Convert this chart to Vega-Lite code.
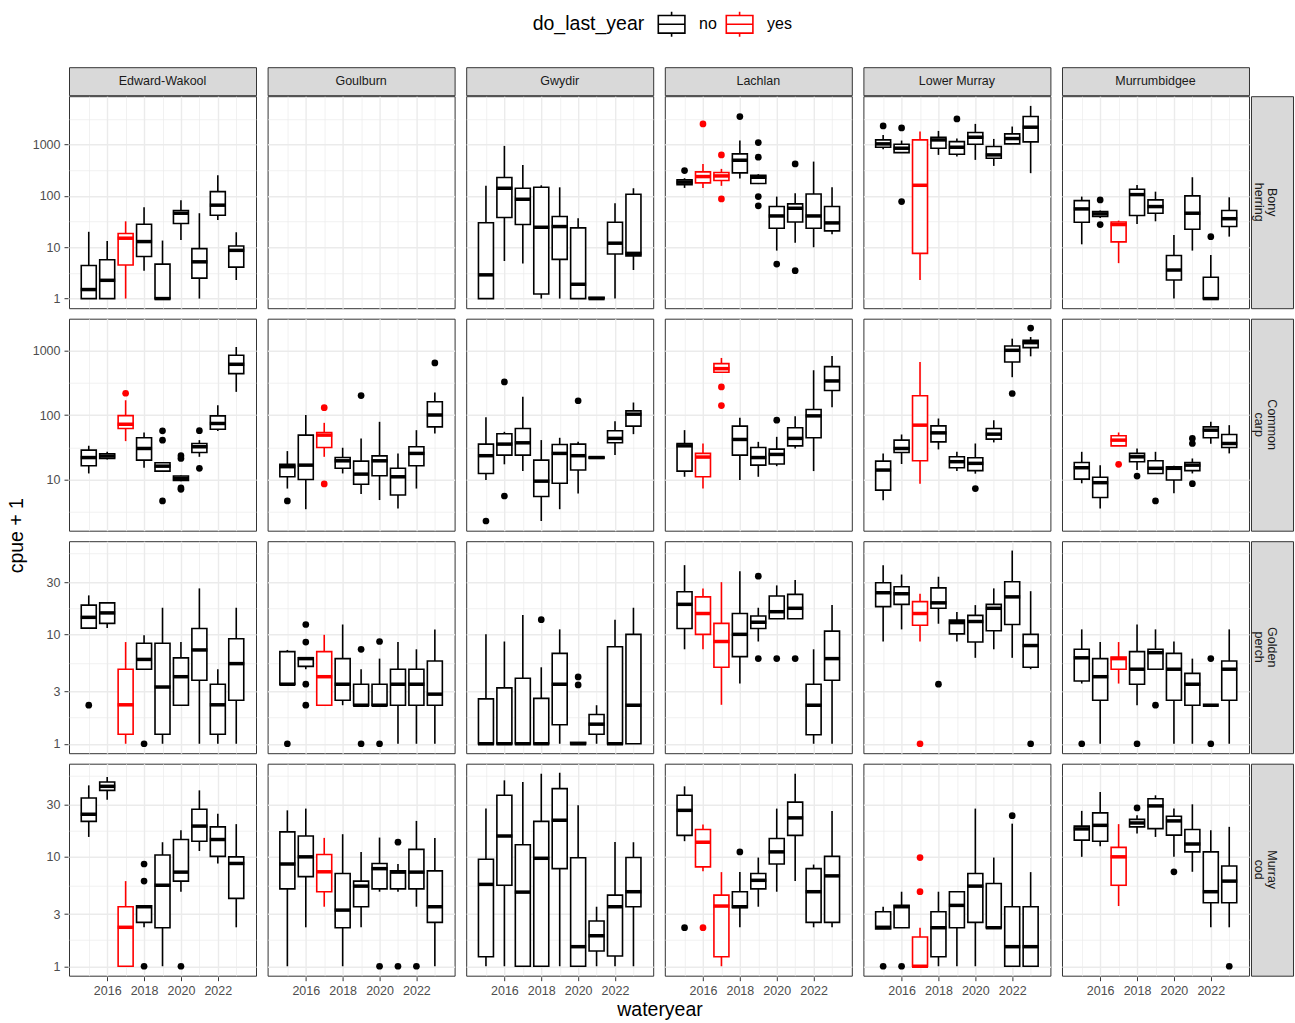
{
  "$schema": "https://vega.github.io/schema/vega-lite/v6.json",
  "background": "white",
  "padding": {"left": 6, "top": 9.2, "right": 0, "bottom": 0},
  "data": {"values": [
    {"river":"Edward-Wakool","species":"Bony herring","year":2015,"do_last_year":"no","lower":1,"q1":1,"median":1.5,"q3":4.4,"upper":20},
    {"river":"Edward-Wakool","species":"Bony herring","year":2016,"do_last_year":"no","lower":1,"q1":1,"median":2.27,"q3":5.7,"upper":13.3},
    {"river":"Edward-Wakool","species":"Bony herring","year":2017,"do_last_year":"yes","lower":1,"q1":4.5,"median":15,"q3":18.5,"upper":32},
    {"river":"Edward-Wakool","species":"Bony herring","year":2018,"do_last_year":"no","lower":3.5,"q1":6.6,"median":12.9,"q3":28,"upper":60},
    {"river":"Edward-Wakool","species":"Bony herring","year":2019,"do_last_year":"no","lower":1,"q1":1,"median":1,"q3":4.7,"upper":13.5},
    {"river":"Edward-Wakool","species":"Bony herring","year":2020,"do_last_year":"no","lower":13.9,"q1":29,"median":46,"q3":52,"upper":82},
    {"river":"Edward-Wakool","species":"Bony herring","year":2021,"do_last_year":"no","lower":1,"q1":2.5,"median":5.2,"q3":9.4,"upper":46},
    {"river":"Edward-Wakool","species":"Bony herring","year":2022,"do_last_year":"no","lower":34,"q1":42,"median":66,"q3":121,"upper":253},
    {"river":"Edward-Wakool","species":"Bony herring","year":2023,"do_last_year":"no","lower":2.3,"q1":4.1,"median":8.7,"q3":10.6,"upper":19.6},
    {"river":"Goulburn","species":"Bony herring"},
    {"river":"Gwydir","species":"Bony herring","year":2015,"do_last_year":"no","lower":1,"q1":1,"median":2.9,"q3":30,"upper":157},
    {"river":"Gwydir","species":"Bony herring","year":2016,"do_last_year":"no","lower":5.4,"q1":38,"median":141,"q3":228,"upper":942},
    {"river":"Gwydir","species":"Bony herring","year":2017,"do_last_year":"no","lower":4.8,"q1":27.7,"median":86,"q3":141,"upper":402},
    {"river":"Gwydir","species":"Bony herring","year":2018,"do_last_year":"no","lower":1,"q1":1.23,"median":24.5,"q3":147,"upper":161},
    {"river":"Gwydir","species":"Bony herring","year":2019,"do_last_year":"no","lower":1,"q1":5.8,"median":25.3,"q3":39.6,"upper":147},
    {"river":"Gwydir","species":"Bony herring","year":2020,"do_last_year":"no","lower":1,"q1":1,"median":1.9,"q3":23.8,"upper":36.7},
    {"river":"Gwydir","species":"Bony herring","year":2021,"do_last_year":"no","lower":1,"q1":1,"median":1,"q3":1.06,"upper":1.06},
    {"river":"Gwydir","species":"Bony herring","year":2022,"do_last_year":"no","lower":1,"q1":7.4,"median":12,"q3":30.7,"upper":72},
    {"river":"Gwydir","species":"Bony herring","year":2023,"do_last_year":"no","lower":3.6,"q1":6.8,"median":7.6,"q3":108,"upper":141},
    {"river":"Lachlan","species":"Bony herring","year":2015,"do_last_year":"no","lower":143,"q1":166,"median":185,"q3":205,"upper":221},
    {"river":"Lachlan","species":"Bony herring","year":2016,"do_last_year":"yes","lower":143,"q1":179,"median":238,"q3":294,"upper":420},
    {"river":"Lachlan","species":"Bony herring","year":2017,"do_last_year":"yes","lower":157,"q1":199,"median":245,"q3":285,"upper":336},
    {"river":"Lachlan","species":"Bony herring","year":2018,"do_last_year":"no","lower":218,"q1":281,"median":495,"q3":658,"upper":1197},
    {"river":"Lachlan","species":"Bony herring","year":2019,"do_last_year":"no","lower":170,"q1":174,"median":231,"q3":253,"upper":265},
    {"river":"Lachlan","species":"Bony herring","year":2020,"do_last_year":"no","lower":8.6,"q1":23.4,"median":40.7,"q3":62,"upper":97},
    {"river":"Lachlan","species":"Bony herring","year":2021,"do_last_year":"no","lower":12.3,"q1":31,"median":57.5,"q3":70,"upper":113},
    {"river":"Lachlan","species":"Bony herring","year":2022,"do_last_year":"no","lower":10,"q1":23.4,"median":40.7,"q3":109,"upper":466},
    {"river":"Lachlan","species":"Bony herring","year":2023,"do_last_year":"no","lower":17.9,"q1":20.8,"median":29.8,"q3":62,"upper":147},
    {"river":"Lower Murray","species":"Bony herring","year":2015,"do_last_year":"no","lower":811,"q1":887,"median":1031,"q3":1232,"upper":1542},
    {"river":"Lower Murray","species":"Bony herring","year":2016,"do_last_year":"no","lower":698,"q1":698,"median":849,"q3":1015,"upper":1197},
    {"river":"Lower Murray","species":"Bony herring","year":2017,"do_last_year":"yes","lower":2.3,"q1":7.6,"median":161,"q3":1232,"upper":1791},
    {"river":"Lower Murray","species":"Bony herring","year":2018,"do_last_year":"no","lower":629,"q1":849,"median":1232,"q3":1389,"upper":1845},
    {"river":"Lower Murray","species":"Bony herring","year":2019,"do_last_year":"no","lower":584,"q1":648,"median":887,"q3":1143,"upper":1309},
    {"river":"Lower Murray","species":"Bony herring","year":2020,"do_last_year":"no","lower":503,"q1":1015,"median":1389,"q3":1713,"upper":2527},
    {"river":"Lower Murray","species":"Bony herring","year":2021,"do_last_year":"no","lower":384,"q1":542,"median":629,"q3":914,"upper":1288},
    {"river":"Lower Murray","species":"Bony herring","year":2022,"do_last_year":"no","lower":1031,"q1":1031,"median":1309,"q3":1614,"upper":2243},
    {"river":"Lower Murray","species":"Bony herring","year":2023,"do_last_year":"no","lower":277,"q1":1127,"median":2178,"q3":3510,"upper":5665},
    {"river":"Murrumbidgee","species":"Bony herring","year":2015,"do_last_year":"no","lower":11.4,"q1":30.7,"median":55.8,"q3":81,"upper":97},
    {"river":"Murrumbidgee","species":"Bony herring","year":2016,"do_last_year":"no","lower":37,"q1":39.6,"median":44.6,"q3":49.5,"upper":52},
    {"river":"Murrumbidgee","species":"Bony herring","year":2017,"do_last_year":"yes","lower":4.9,"q1":12.7,"median":27.7,"q3":31,"upper":33},
    {"river":"Murrumbidgee","species":"Bony herring","year":2018,"do_last_year":"no","lower":28.5,"q1":41.4,"median":106,"q3":135,"upper":164},
    {"river":"Murrumbidgee","species":"Bony herring","year":2019,"do_last_year":"no","lower":32,"q1":46,"median":62,"q3":83.6,"upper":121},
    {"river":"Murrumbidgee","species":"Bony herring","year":2020,"do_last_year":"no","lower":1,"q1":2.3,"median":3.6,"q3":6.9,"upper":17.4},
    {"river":"Murrumbidgee","species":"Bony herring","year":2021,"do_last_year":"no","lower":8.6,"q1":22.4,"median":46,"q3":100,"upper":231},
    {"river":"Murrumbidgee","species":"Bony herring","year":2022,"do_last_year":"no","lower":1,"q1":1,"median":1,"q3":2.6,"upper":7.1},
    {"river":"Murrumbidgee","species":"Bony herring","year":2023,"do_last_year":"no","lower":16.1,"q1":25.3,"median":36,"q3":52,"upper":94},

    {"river":"Edward-Wakool","species":"Common carp","year":2015,"do_last_year":"no","lower":12.5,"q1":16.4,"median":22,"q3":28.7,"upper":33.5},
    {"river":"Edward-Wakool","species":"Common carp","year":2016,"do_last_year":"no","lower":20.6,"q1":21.3,"median":23.2,"q3":25.2,"upper":27},
    {"river":"Edward-Wakool","species":"Common carp","year":2017,"do_last_year":"yes","lower":39.5,"q1":62,"median":72,"q3":98,"upper":169},
    {"river":"Edward-Wakool","species":"Common carp","year":2018,"do_last_year":"no","lower":15.3,"q1":20.1,"median":30.4,"q3":44.5,"upper":53.7},
    {"river":"Edward-Wakool","species":"Common carp","year":2019,"do_last_year":"no","lower":13.5,"q1":13.6,"median":16.2,"q3":18.3,"upper":18.5},
    {"river":"Edward-Wakool","species":"Common carp","year":2020,"do_last_year":"no","lower":9.5,"q1":9.7,"median":10.5,"q3":11.4,"upper":11.6},
    {"river":"Edward-Wakool","species":"Common carp","year":2021,"do_last_year":"no","lower":22.6,"q1":26.4,"median":32.3,"q3":36.3,"upper":40.9},
    {"river":"Edward-Wakool","species":"Common carp","year":2022,"do_last_year":"no","lower":56.4,"q1":60.4,"median":74,"q3":97,"upper":142},
    {"river":"Edward-Wakool","species":"Common carp","year":2023,"do_last_year":"no","lower":228,"q1":436,"median":608,"q3":837,"upper":1125},
    {"river":"Goulburn","species":"Common carp","year":2015,"do_last_year":"no","lower":7.3,"q1":11.1,"median":15.9,"q3":17.3,"upper":27.7},
    {"river":"Goulburn","species":"Common carp","year":2016,"do_last_year":"no","lower":3.5,"q1":10.1,"median":16.8,"q3":48.9,"upper":100},
    {"river":"Goulburn","species":"Common carp","year":2017,"do_last_year":"yes","lower":22.6,"q1":31.5,"median":48.9,"q3":53.7,"upper":75.7},
    {"river":"Goulburn","species":"Common carp","year":2018,"do_last_year":"no","lower":12.5,"q1":15,"median":19.6,"q3":22.1,"upper":31.2},
    {"river":"Goulburn","species":"Common carp","year":2019,"do_last_year":"no","lower":6,"q1":8.5,"median":12.2,"q3":19.4,"upper":43.5},
    {"river":"Goulburn","species":"Common carp","year":2020,"do_last_year":"no","lower":4.85,"q1":11.5,"median":19.6,"q3":23.4,"upper":78.5},
    {"river":"Goulburn","species":"Common carp","year":2021,"do_last_year":"no","lower":3.6,"q1":5.8,"median":11.1,"q3":15,"upper":25.5},
    {"river":"Goulburn","species":"Common carp","year":2022,"do_last_year":"no","lower":7.3,"q1":16.4,"median":25.5,"q3":32.3,"upper":58.3},
    {"river":"Goulburn","species":"Common carp","year":2023,"do_last_year":"no","lower":51.9,"q1":65.6,"median":100,"q3":160,"upper":222},
    {"river":"Gwydir","species":"Common carp","year":2015,"do_last_year":"no","lower":9.9,"q1":12.5,"median":23.5,"q3":35.5,"upper":92.7},
    {"river":"Gwydir","species":"Common carp","year":2016,"do_last_year":"no","lower":17.3,"q1":24,"median":35.5,"q3":51.3,"upper":55},
    {"river":"Gwydir","species":"Common carp","year":2017,"do_last_year":"no","lower":13.6,"q1":24,"median":37.2,"q3":62,"upper":191},
    {"river":"Gwydir","species":"Common carp","year":2018,"do_last_year":"no","lower":2.3,"q1":5.5,"median":9.5,"q3":20.1,"upper":41},
    {"river":"Gwydir","species":"Common carp","year":2019,"do_last_year":"no","lower":3.5,"q1":8.8,"median":25.5,"q3":35.1,"upper":44.5},
    {"river":"Gwydir","species":"Common carp","year":2020,"do_last_year":"no","lower":6.1,"q1":14.1,"median":23.5,"q3":35.5,"upper":38.5},
    {"river":"Gwydir","species":"Common carp","year":2021,"do_last_year":"no","lower":21.7,"q1":21.7,"median":22,"q3":22.3,"upper":22.3},
    {"river":"Gwydir","species":"Common carp","year":2022,"do_last_year":"no","lower":24,"q1":37.2,"median":43.5,"q3":57,"upper":80.4},
    {"river":"Gwydir","species":"Common carp","year":2023,"do_last_year":"no","lower":50.6,"q1":67.3,"median":103,"q3":116,"upper":156},
    {"river":"Lachlan","species":"Common carp","year":2015,"do_last_year":"no","lower":11.1,"q1":13.6,"median":33.4,"q3":36.3,"upper":58.4},
    {"river":"Lachlan","species":"Common carp","year":2016,"do_last_year":"yes","lower":7.3,"q1":11.1,"median":22.4,"q3":25.5,"upper":36.3},
    {"river":"Lachlan","species":"Common carp","year":2017,"do_last_year":"yes","lower":458,"q1":458,"median":521,"q3":622,"upper":762},
    {"river":"Lachlan","species":"Common carp","year":2018,"do_last_year":"no","lower":9.9,"q1":24,"median":41.9,"q3":67.3,"upper":90.4},
    {"river":"Lachlan","species":"Common carp","year":2019,"do_last_year":"no","lower":11.1,"q1":16.8,"median":22,"q3":31.5,"upper":38.5},
    {"river":"Lachlan","species":"Common carp","year":2020,"do_last_year":"no","lower":16.2,"q1":17.5,"median":24.6,"q3":29.7,"upper":46},
    {"river":"Lachlan","species":"Common carp","year":2021,"do_last_year":"no","lower":30.4,"q1":33.4,"median":43.5,"q3":63.4,"upper":96},
    {"river":"Lachlan","species":"Common carp","year":2022,"do_last_year":"no","lower":13.6,"q1":44.5,"median":97,"q3":121.6,"upper":492},
    {"river":"Lachlan","species":"Common carp","year":2023,"do_last_year":"no","lower":132,"q1":239,"median":336,"q3":560,"upper":818},
    {"river":"Lower Murray","species":"Common carp","year":2015,"do_last_year":"no","lower":4.8,"q1":6.9,"median":14.1,"q3":19.4,"upper":25.5},
    {"river":"Lower Murray","species":"Common carp","year":2016,"do_last_year":"no","lower":17.5,"q1":26.4,"median":30.4,"q3":40.9,"upper":50},
    {"river":"Lower Murray","species":"Common carp","year":2017,"do_last_year":"yes","lower":8.7,"q1":19.6,"median":69.7,"q3":198,"upper":661},
    {"river":"Lower Murray","species":"Common carp","year":2018,"do_last_year":"no","lower":29.4,"q1":38.5,"median":53,"q3":68,"upper":88.3},
    {"river":"Lower Murray","species":"Common carp","year":2019,"do_last_year":"no","lower":13.6,"q1":15.3,"median":19,"q3":22.6,"upper":27},
    {"river":"Lower Murray","species":"Common carp","year":2020,"do_last_year":"no","lower":12.4,"q1":13.8,"median":17.9,"q3":21.8,"upper":36.3},
    {"river":"Lower Murray","species":"Common carp","year":2021,"do_last_year":"no","lower":37.7,"q1":42.4,"median":50.6,"q3":62,"upper":83},
    {"river":"Lower Murray","species":"Common carp","year":2022,"do_last_year":"no","lower":384,"q1":661,"median":1000,"q3":1167,"upper":1514},
    {"river":"Lower Murray","species":"Common carp","year":2023,"do_last_year":"no","lower":807,"q1":1099,"median":1313,"q3":1427,"upper":1606},
    {"river":"Murrumbidgee","species":"Common carp","year":2015,"do_last_year":"no","lower":8.8,"q1":10.2,"median":15.3,"q3":18.5,"upper":27},
    {"river":"Murrumbidgee","species":"Common carp","year":2016,"do_last_year":"no","lower":3.6,"q1":5.3,"median":9,"q3":10.9,"upper":16.8},
    {"river":"Murrumbidgee","species":"Common carp","year":2017,"do_last_year":"yes","lower":33.4,"q1":33.4,"median":40.9,"q3":47.8,"upper":53.7},
    {"river":"Murrumbidgee","species":"Common carp","year":2018,"do_last_year":"no","lower":14.1,"q1":19,"median":22.6,"q3":25.5,"upper":30.4},
    {"river":"Murrumbidgee","species":"Common carp","year":2019,"do_last_year":"no","lower":12.5,"q1":12.5,"median":15,"q3":19.6,"upper":27},
    {"river":"Murrumbidgee","species":"Common carp","year":2020,"do_last_year":"no","lower":6.2,"q1":9.9,"median":15,"q3":15.9,"upper":16.4},
    {"river":"Murrumbidgee","species":"Common carp","year":2021,"do_last_year":"no","lower":12.5,"q1":13.8,"median":16.8,"q3":18.5,"upper":21.3},
    {"river":"Murrumbidgee","species":"Common carp","year":2022,"do_last_year":"no","lower":35.9,"q1":44.5,"median":58.3,"q3":65.6,"upper":78.5},
    {"river":"Murrumbidgee","species":"Common carp","year":2023,"do_last_year":"no","lower":25.5,"q1":31.5,"median":36.3,"q3":50,"upper":69.7},

    {"river":"Edward-Wakool","species":"Golden perch","year":2015,"do_last_year":"no","lower":11.4,"q1":11.4,"median":14.3,"q3":18.5,"upper":22.7},
    {"river":"Edward-Wakool","species":"Golden perch","year":2016,"do_last_year":"no","lower":11.4,"q1":12.6,"median":15.7,"q3":19.4,"upper":19.7},
    {"river":"Edward-Wakool","species":"Golden perch","year":2017,"do_last_year":"yes","lower":1,"q1":1.22,"median":2.27,"q3":4.8,"upper":8.5},
    {"river":"Edward-Wakool","species":"Golden perch","year":2018,"do_last_year":"no","lower":4.8,"q1":4.8,"median":5.9,"q3":8.3,"upper":9.8},
    {"river":"Edward-Wakool","species":"Golden perch","year":2019,"do_last_year":"no","lower":1,"q1":1.22,"median":3.3,"q3":8.3,"upper":17.5},
    {"river":"Edward-Wakool","species":"Golden perch","year":2020,"do_last_year":"no","lower":2.25,"q1":2.25,"median":4.1,"q3":6.1,"upper":8.5},
    {"river":"Edward-Wakool","species":"Golden perch","year":2021,"do_last_year":"no","lower":1,"q1":3.8,"median":7.2,"q3":11.3,"upper":26.3},
    {"river":"Edward-Wakool","species":"Golden perch","year":2022,"do_last_year":"no","lower":1,"q1":1.22,"median":2.27,"q3":3.5,"upper":4.8},
    {"river":"Edward-Wakool","species":"Golden perch","year":2023,"do_last_year":"no","lower":1,"q1":2.5,"median":5.4,"q3":9.1,"upper":17.5},
    {"river":"Goulburn","species":"Golden perch","year":2015,"do_last_year":"no","lower":3.5,"q1":3.5,"median":3.5,"q3":6.95,"upper":7.2},
    {"river":"Goulburn","species":"Golden perch","year":2016,"do_last_year":"no","lower":4.8,"q1":5.1,"median":6,"q3":6.1,"upper":6.2},
    {"river":"Goulburn","species":"Golden perch","year":2017,"do_last_year":"yes","lower":2.25,"q1":2.25,"median":4.1,"q3":6.95,"upper":9.9},
    {"river":"Goulburn","species":"Golden perch","year":2018,"do_last_year":"no","lower":2.25,"q1":2.5,"median":3.5,"q3":6,"upper":12.3},
    {"river":"Goulburn","species":"Golden perch","year":2019,"do_last_year":"no","lower":2.25,"q1":2.25,"median":2.25,"q3":3.5,"upper":4.8},
    {"river":"Goulburn","species":"Golden perch","year":2020,"do_last_year":"no","lower":2.25,"q1":2.25,"median":2.25,"q3":3.5,"upper":6},
    {"river":"Goulburn","species":"Golden perch","year":2021,"do_last_year":"no","lower":1,"q1":2.25,"median":3.5,"q3":4.8,"upper":8.5},
    {"river":"Goulburn","species":"Golden perch","year":2022,"do_last_year":"no","lower":1,"q1":2.25,"median":3.5,"q3":4.8,"upper":7.3},
    {"river":"Goulburn","species":"Golden perch","year":2023,"do_last_year":"no","lower":1,"q1":2.25,"median":2.84,"q3":5.7,"upper":11.1},
    {"river":"Gwydir","species":"Golden perch","year":2015,"do_last_year":"no","lower":1,"q1":1,"median":1,"q3":2.57,"upper":10},
    {"river":"Gwydir","species":"Golden perch","year":2016,"do_last_year":"no","lower":1,"q1":1,"median":1,"q3":3.24,"upper":8.6},
    {"river":"Gwydir","species":"Golden perch","year":2017,"do_last_year":"no","lower":1,"q1":1,"median":1,"q3":3.97,"upper":15},
    {"river":"Gwydir","species":"Golden perch","year":2018,"do_last_year":"no","lower":1,"q1":1,"median":1,"q3":2.6,"upper":5},
    {"river":"Gwydir","species":"Golden perch","year":2019,"do_last_year":"no","lower":1,"q1":1.49,"median":3.5,"q3":6.7,"upper":11.1},
    {"river":"Gwydir","species":"Golden perch","year":2020,"do_last_year":"no","lower":1,"q1":1,"median":1,"q3":1.03,"upper":1.03},
    {"river":"Gwydir","species":"Golden perch","year":2021,"do_last_year":"no","lower":1,"q1":1.22,"median":1.51,"q3":1.85,"upper":2.25},
    {"river":"Gwydir","species":"Golden perch","year":2022,"do_last_year":"no","lower":1,"q1":1,"median":1,"q3":7.7,"upper":13.6},
    {"river":"Gwydir","species":"Golden perch","year":2023,"do_last_year":"no","lower":1,"q1":1,"median":2.25,"q3":10,"upper":17.5},
    {"river":"Lachlan","species":"Golden perch","year":2015,"do_last_year":"no","lower":7.3,"q1":11.3,"median":18.8,"q3":24.5,"upper":42.9},
    {"river":"Lachlan","species":"Golden perch","year":2016,"do_last_year":"yes","lower":7.3,"q1":10,"median":15.5,"q3":22,"upper":26.3},
    {"river":"Lachlan","species":"Golden perch","year":2017,"do_last_year":"yes","lower":2.27,"q1":5,"median":8.6,"q3":12.6,"upper":30},
    {"river":"Lachlan","species":"Golden perch","year":2018,"do_last_year":"no","lower":3.55,"q1":6.25,"median":10,"q3":15.5,"upper":37.8},
    {"river":"Lachlan","species":"Golden perch","year":2019,"do_last_year":"no","lower":8.6,"q1":11.3,"median":12.9,"q3":14.7,"upper":17.5},
    {"river":"Lachlan","species":"Golden perch","year":2020,"do_last_year":"no","lower":13.9,"q1":13.9,"median":16.1,"q3":22.4,"upper":28},
    {"river":"Lachlan","species":"Golden perch","year":2021,"do_last_year":"no","lower":13.9,"q1":13.9,"median":17.3,"q3":23.2,"upper":31.3},
    {"river":"Lachlan","species":"Golden perch","year":2022,"do_last_year":"no","lower":1,"q1":1.21,"median":2.25,"q3":3.5,"upper":7.3},
    {"river":"Lachlan","species":"Golden perch","year":2023,"do_last_year":"no","lower":1,"q1":3.8,"median":6,"q3":10.7,"upper":18.5},
    {"river":"Lower Murray","species":"Golden perch","year":2015,"do_last_year":"no","lower":8.6,"q1":17.9,"median":24,"q3":29.6,"upper":42.9},
    {"river":"Lower Murray","species":"Golden perch","year":2016,"do_last_year":"no","lower":11.1,"q1":18.8,"median":23.5,"q3":27.2,"upper":35.2},
    {"river":"Lower Murray","species":"Golden perch","year":2017,"do_last_year":"yes","lower":8.6,"q1":12.1,"median":15.5,"q3":19.9,"upper":23.5},
    {"river":"Lower Murray","species":"Golden perch","year":2018,"do_last_year":"no","lower":12.5,"q1":17.3,"median":19.4,"q3":26.6,"upper":33.6},
    {"river":"Lower Murray","species":"Golden perch","year":2019,"do_last_year":"no","lower":8.6,"q1":10.1,"median":12.8,"q3":13.5,"upper":16},
    {"river":"Lower Murray","species":"Golden perch","year":2020,"do_last_year":"no","lower":6.1,"q1":8.5,"median":13.1,"q3":14.9,"upper":18.5},
    {"river":"Lower Murray","species":"Golden perch","year":2021,"do_last_year":"no","lower":7.3,"q1":10.8,"median":17.3,"q3":18.8,"upper":26.3},
    {"river":"Lower Murray","species":"Golden perch","year":2022,"do_last_year":"no","lower":6.1,"q1":12.3,"median":22,"q3":30.2,"upper":58.3},
    {"river":"Lower Murray","species":"Golden perch","year":2023,"do_last_year":"no","lower":4.8,"q1":5,"median":7.9,"q3":10,"upper":24.8},
    {"river":"Murrumbidgee","species":"Golden perch","year":2015,"do_last_year":"no","lower":3.55,"q1":3.75,"median":6.1,"q3":7.3,"upper":11.1},
    {"river":"Murrumbidgee","species":"Golden perch","year":2016,"do_last_year":"no","lower":1,"q1":2.5,"median":4.1,"q3":6,"upper":8.5},
    {"river":"Murrumbidgee","species":"Golden perch","year":2017,"do_last_year":"yes","lower":3.55,"q1":4.8,"median":6,"q3":6.2,"upper":8.5},
    {"river":"Murrumbidgee","species":"Golden perch","year":2018,"do_last_year":"no","lower":2.25,"q1":3.5,"median":4.8,"q3":6.95,"upper":12.3},
    {"river":"Murrumbidgee","species":"Golden perch","year":2019,"do_last_year":"no","lower":4.8,"q1":4.8,"median":6.8,"q3":7.3,"upper":11.1},
    {"river":"Murrumbidgee","species":"Golden perch","year":2020,"do_last_year":"no","lower":1,"q1":2.5,"median":4.8,"q3":6.7,"upper":8.6},
    {"river":"Murrumbidgee","species":"Golden perch","year":2021,"do_last_year":"no","lower":1,"q1":2.25,"median":3.5,"q3":4.4,"upper":6},
    {"river":"Murrumbidgee","species":"Golden perch","year":2022,"do_last_year":"no","lower":2.25,"q1":2.25,"median":2.25,"q3":2.25,"upper":2.25},
    {"river":"Murrumbidgee","species":"Golden perch","year":2023,"do_last_year":"no","lower":1,"q1":2.5,"median":4.8,"q3":5.7,"upper":11.1},

    {"river":"Edward-Wakool","species":"Murray cod","year":2015,"do_last_year":"no","lower":15.2,"q1":21.1,"median":24.5,"q3":34.5,"upper":45},
    {"river":"Edward-Wakool","species":"Murray cod","year":2016,"do_last_year":"no","lower":33.3,"q1":40.5,"median":44.1,"q3":48.3,"upper":53.6},
    {"river":"Edward-Wakool","species":"Murray cod","year":2017,"do_last_year":"yes","lower":1,"q1":1,"median":2.27,"q3":3.5,"upper":6},
    {"river":"Edward-Wakool","species":"Murray cod","year":2018,"do_last_year":"no","lower":2.27,"q1":2.52,"median":3.5,"q3":3.57,"upper":3.57},
    {"river":"Edward-Wakool","species":"Murray cod","year":2019,"do_last_year":"no","lower":1,"q1":2.25,"median":5.5,"q3":10.4,"upper":13.6},
    {"river":"Edward-Wakool","species":"Murray cod","year":2020,"do_last_year":"no","lower":4.8,"q1":6,"median":7.25,"q3":14.4,"upper":17.5},
    {"river":"Edward-Wakool","species":"Murray cod","year":2021,"do_last_year":"no","lower":11.3,"q1":13.9,"median":19.1,"q3":27.2,"upper":40.5},
    {"river":"Edward-Wakool","species":"Murray cod","year":2022,"do_last_year":"no","lower":8.7,"q1":10.1,"median":14.4,"q3":18.8,"upper":24.8},
    {"river":"Edward-Wakool","species":"Murray cod","year":2023,"do_last_year":"no","lower":2.27,"q1":4.17,"median":8.7,"q3":10,"upper":19.9},
    {"river":"Goulburn","species":"Murray cod","year":2015,"do_last_year":"no","lower":1,"q1":5.1,"median":8.6,"q3":16.9,"upper":26.6},
    {"river":"Goulburn","species":"Murray cod","year":2016,"do_last_year":"no","lower":2.27,"q1":6.6,"median":10,"q3":15.5,"upper":27.6},
    {"river":"Goulburn","species":"Murray cod","year":2017,"do_last_year":"yes","lower":3.5,"q1":4.8,"median":7.3,"q3":10.5,"upper":14.9},
    {"river":"Goulburn","species":"Murray cod","year":2018,"do_last_year":"no","lower":1,"q1":2.25,"median":3.26,"q3":7.05,"upper":16.1},
    {"river":"Goulburn","species":"Murray cod","year":2019,"do_last_year":"no","lower":2.27,"q1":3.5,"median":5.4,"q3":6,"upper":11.1},
    {"river":"Goulburn","species":"Murray cod","year":2020,"do_last_year":"no","lower":4.8,"q1":5.1,"median":7.8,"q3":8.7,"upper":15},
    {"river":"Goulburn","species":"Murray cod","year":2021,"do_last_year":"no","lower":4.8,"q1":5.1,"median":7.25,"q3":7.45,"upper":8.6},
    {"river":"Goulburn","species":"Murray cod","year":2022,"do_last_year":"no","lower":3.5,"q1":5.1,"median":7.25,"q3":11.7,"upper":21.3},
    {"river":"Goulburn","species":"Murray cod","year":2023,"do_last_year":"no","lower":1,"q1":2.52,"median":3.5,"q3":7.45,"upper":14.9},
    {"river":"Gwydir","species":"Murray cod","year":2015,"do_last_year":"no","lower":1,"q1":1.22,"median":5.6,"q3":9.5,"upper":27.6},
    {"river":"Gwydir","species":"Murray cod","year":2016,"do_last_year":"no","lower":1,"q1":5.5,"median":15.5,"q3":36.5,"upper":50},
    {"river":"Gwydir","species":"Murray cod","year":2017,"do_last_year":"no","lower":1,"q1":1,"median":4.76,"q3":12.9,"upper":48.3},
    {"river":"Gwydir","species":"Murray cod","year":2018,"do_last_year":"no","lower":1,"q1":1,"median":9.7,"q3":21.1,"upper":57.5},
    {"river":"Gwydir","species":"Murray cod","year":2019,"do_last_year":"no","lower":1,"q1":7.8,"median":21.6,"q3":42,"upper":58.7},
    {"river":"Gwydir","species":"Murray cod","year":2020,"do_last_year":"no","lower":1,"q1":1,"median":1.51,"q3":9.8,"upper":29.6},
    {"river":"Gwydir","species":"Murray cod","year":2021,"do_last_year":"no","lower":1,"q1":1.38,"median":1.9,"q3":2.59,"upper":3.5},
    {"river":"Gwydir","species":"Murray cod","year":2022,"do_last_year":"no","lower":1,"q1":1.24,"median":3.5,"q3":4.47,"upper":13.7},
    {"river":"Gwydir","species":"Murray cod","year":2023,"do_last_year":"no","lower":1,"q1":3.5,"median":4.8,"q3":9.85,"upper":13.6},
    {"river":"Lachlan","species":"Murray cod","year":2015,"do_last_year":"no","lower":13.9,"q1":15.7,"median":26.6,"q3":36.5,"upper":44.1},
    {"river":"Lachlan","species":"Murray cod","year":2016,"do_last_year":"yes","lower":7.4,"q1":8.1,"median":13.6,"q3":17.8,"upper":19.7},
    {"river":"Lachlan","species":"Murray cod","year":2017,"do_last_year":"yes","lower":1,"q1":1.22,"median":3.55,"q3":4.47,"upper":7.25},
    {"river":"Lachlan","species":"Murray cod","year":2018,"do_last_year":"no","lower":2.27,"q1":3.45,"median":3.5,"q3":4.8,"upper":7.25},
    {"river":"Lachlan","species":"Murray cod","year":2019,"do_last_year":"no","lower":3.5,"q1":5.1,"median":6.1,"q3":7.05,"upper":9.85},
    {"river":"Lachlan","species":"Murray cod","year":2020,"do_last_year":"no","lower":4.8,"q1":8.6,"median":11.1,"q3":14.7,"upper":27.6},
    {"river":"Lachlan","species":"Murray cod","year":2021,"do_last_year":"no","lower":6,"q1":15.7,"median":22.7,"q3":31.6,"upper":57.5},
    {"river":"Lachlan","species":"Murray cod","year":2022,"do_last_year":"no","lower":2.27,"q1":2.52,"median":4.8,"q3":7.8,"upper":8.5},
    {"river":"Lachlan","species":"Murray cod","year":2023,"do_last_year":"no","lower":2.27,"q1":2.52,"median":6.7,"q3":10.1,"upper":26.3},
    {"river":"Lower Murray","species":"Murray cod","year":2015,"do_last_year":"no","lower":2.19,"q1":2.19,"median":2.27,"q3":3.15,"upper":3.5},
    {"river":"Lower Murray","species":"Murray cod","year":2016,"do_last_year":"no","lower":2.25,"q1":2.25,"median":3.5,"q3":3.6,"upper":4.8},
    {"river":"Lower Murray","species":"Murray cod","year":2017,"do_last_year":"yes","lower":1,"q1":1,"median":1,"q3":1.85,"upper":2.25},
    {"river":"Lower Murray","species":"Murray cod","year":2018,"do_last_year":"no","lower":1,"q1":1.22,"median":2.25,"q3":3.15,"upper":4.8},
    {"river":"Lower Murray","species":"Murray cod","year":2019,"do_last_year":"no","lower":1,"q1":2.25,"median":3.6,"q3":4.8,"upper":4.8},
    {"river":"Lower Murray","species":"Murray cod","year":2020,"do_last_year":"no","lower":1,"q1":2.52,"median":5.4,"q3":7.05,"upper":27.6},
    {"river":"Lower Murray","species":"Murray cod","year":2021,"do_last_year":"no","lower":2.25,"q1":2.25,"median":2.25,"q3":5.7,"upper":9.85},
    {"river":"Lower Murray","species":"Murray cod","year":2022,"do_last_year":"no","lower":1,"q1":1,"median":1.51,"q3":3.5,"upper":20.1},
    {"river":"Lower Murray","species":"Murray cod","year":2023,"do_last_year":"no","lower":1,"q1":1,"median":1.51,"q3":3.5,"upper":7.25},
    {"river":"Murrumbidgee","species":"Murray cod","year":2015,"do_last_year":"no","lower":10,"q1":14.2,"median":18,"q3":19.1,"upper":26.3},
    {"river":"Murrumbidgee","species":"Murray cod","year":2016,"do_last_year":"no","lower":12.5,"q1":13.9,"median":19.4,"q3":25.2,"upper":39.1},
    {"river":"Murrumbidgee","species":"Murray cod","year":2017,"do_last_year":"yes","lower":3.55,"q1":5.5,"median":10,"q3":12.2,"upper":19.9},
    {"river":"Murrumbidgee","species":"Murray cod","year":2018,"do_last_year":"no","lower":16.3,"q1":18.8,"median":20.4,"q3":22,"upper":24},
    {"river":"Murrumbidgee","species":"Murray cod","year":2019,"do_last_year":"no","lower":15.2,"q1":18.1,"median":29.2,"q3":34,"upper":36.5},
    {"river":"Murrumbidgee","species":"Murray cod","year":2020,"do_last_year":"no","lower":10,"q1":15.8,"median":21.3,"q3":23.5,"upper":27.6},
    {"river":"Murrumbidgee","species":"Murray cod","year":2021,"do_last_year":"no","lower":7.3,"q1":11.1,"median":13.1,"q3":17.8,"upper":30.2},
    {"river":"Murrumbidgee","species":"Murray cod","year":2022,"do_last_year":"no","lower":2.27,"q1":3.8,"median":4.8,"q3":11.1,"upper":17.5},
    {"river":"Murrumbidgee","species":"Murray cod","year":2023,"do_last_year":"no","lower":2.27,"q1":3.8,"median":6,"q3":8.25,"upper":18.8},

    {"river":"Lachlan","species":"Bony herring","year":2015,"do_last_year":"no","outlier":312},
    {"river":"Lachlan","species":"Bony herring","year":2016,"do_last_year":"yes","outlier":2527},
    {"river":"Lachlan","species":"Bony herring","year":2017,"do_last_year":"yes","outlier":629},
    {"river":"Lachlan","species":"Bony herring","year":2017,"do_last_year":"yes","outlier":87.5},
    {"river":"Lachlan","species":"Bony herring","year":2018,"do_last_year":"no","outlier":3510},
    {"river":"Lachlan","species":"Bony herring","year":2019,"do_last_year":"no","outlier":1094},
    {"river":"Lachlan","species":"Bony herring","year":2019,"do_last_year":"no","outlier":567},
    {"river":"Lachlan","species":"Bony herring","year":2019,"do_last_year":"no","outlier":97},
    {"river":"Lachlan","species":"Bony herring","year":2019,"do_last_year":"no","outlier":64},
    {"river":"Lachlan","species":"Bony herring","year":2020,"do_last_year":"no","outlier":4.7},
    {"river":"Lachlan","species":"Bony herring","year":2021,"do_last_year":"no","outlier":420},
    {"river":"Lachlan","species":"Bony herring","year":2021,"do_last_year":"no","outlier":3.5},
    {"river":"Lower Murray","species":"Bony herring","year":2015,"do_last_year":"no","outlier":2311},
    {"river":"Lower Murray","species":"Bony herring","year":2016,"do_last_year":"no","outlier":2113},
    {"river":"Lower Murray","species":"Bony herring","year":2016,"do_last_year":"no","outlier":77.6},
    {"river":"Lower Murray","species":"Bony herring","year":2019,"do_last_year":"no","outlier":3162},
    {"river":"Murrumbidgee","species":"Bony herring","year":2016,"do_last_year":"no","outlier":83.6},
    {"river":"Murrumbidgee","species":"Bony herring","year":2016,"do_last_year":"no","outlier":27.7},
    {"river":"Murrumbidgee","species":"Bony herring","year":2022,"do_last_year":"no","outlier":16.1},

    {"river":"Edward-Wakool","species":"Common carp","year":2017,"do_last_year":"yes","outlier":217},
    {"river":"Edward-Wakool","species":"Common carp","year":2019,"do_last_year":"no","outlier":57},
    {"river":"Edward-Wakool","species":"Common carp","year":2019,"do_last_year":"no","outlier":40.9},
    {"river":"Edward-Wakool","species":"Common carp","year":2019,"do_last_year":"no","outlier":4.7},
    {"river":"Edward-Wakool","species":"Common carp","year":2020,"do_last_year":"no","outlier":23.5},
    {"river":"Edward-Wakool","species":"Common carp","year":2020,"do_last_year":"no","outlier":21.3},
    {"river":"Edward-Wakool","species":"Common carp","year":2020,"do_last_year":"no","outlier":7.5},
    {"river":"Edward-Wakool","species":"Common carp","year":2020,"do_last_year":"no","outlier":7.1},
    {"river":"Edward-Wakool","species":"Common carp","year":2021,"do_last_year":"no","outlier":57.3},
    {"river":"Edward-Wakool","species":"Common carp","year":2021,"do_last_year":"no","outlier":15},
    {"river":"Goulburn","species":"Common carp","year":2015,"do_last_year":"no","outlier":4.7},
    {"river":"Goulburn","species":"Common carp","year":2017,"do_last_year":"yes","outlier":130},
    {"river":"Goulburn","species":"Common carp","year":2017,"do_last_year":"yes","outlier":8.6},
    {"river":"Goulburn","species":"Common carp","year":2019,"do_last_year":"no","outlier":200},
    {"river":"Goulburn","species":"Common carp","year":2023,"do_last_year":"no","outlier":638},
    {"river":"Gwydir","species":"Common carp","year":2015,"do_last_year":"no","outlier":2.3},
    {"river":"Gwydir","species":"Common carp","year":2016,"do_last_year":"no","outlier":325},
    {"river":"Gwydir","species":"Common carp","year":2016,"do_last_year":"no","outlier":5.6},
    {"river":"Gwydir","species":"Common carp","year":2020,"do_last_year":"no","outlier":166},
    {"river":"Lachlan","species":"Common carp","year":2017,"do_last_year":"yes","outlier":272},
    {"river":"Lachlan","species":"Common carp","year":2017,"do_last_year":"yes","outlier":140},
    {"river":"Lachlan","species":"Common carp","year":2020,"do_last_year":"no","outlier":83.2},
    {"river":"Lower Murray","species":"Common carp","year":2020,"do_last_year":"no","outlier":7.3},
    {"river":"Lower Murray","species":"Common carp","year":2022,"do_last_year":"no","outlier":215},
    {"river":"Lower Murray","species":"Common carp","year":2023,"do_last_year":"no","outlier":2208},
    {"river":"Murrumbidgee","species":"Common carp","year":2017,"do_last_year":"yes","outlier":17.3},
    {"river":"Murrumbidgee","species":"Common carp","year":2018,"do_last_year":"no","outlier":11.4},
    {"river":"Murrumbidgee","species":"Common carp","year":2019,"do_last_year":"no","outlier":4.7},
    {"river":"Murrumbidgee","species":"Common carp","year":2021,"do_last_year":"no","outlier":43.5},
    {"river":"Murrumbidgee","species":"Common carp","year":2021,"do_last_year":"no","outlier":36.3},
    {"river":"Murrumbidgee","species":"Common carp","year":2021,"do_last_year":"no","outlier":8.7},

    {"river":"Edward-Wakool","species":"Golden perch","year":2015,"do_last_year":"no","outlier":2.25},
    {"river":"Edward-Wakool","species":"Golden perch","year":2018,"do_last_year":"no","outlier":1},
    {"river":"Goulburn","species":"Golden perch","year":2015,"do_last_year":"no","outlier":1},
    {"river":"Goulburn","species":"Golden perch","year":2016,"do_last_year":"no","outlier":12.3},
    {"river":"Goulburn","species":"Golden perch","year":2016,"do_last_year":"no","outlier":8.5},
    {"river":"Goulburn","species":"Golden perch","year":2016,"do_last_year":"no","outlier":3.5},
    {"river":"Goulburn","species":"Golden perch","year":2016,"do_last_year":"no","outlier":2.25},
    {"river":"Goulburn","species":"Golden perch","year":2019,"do_last_year":"no","outlier":7.3},
    {"river":"Goulburn","species":"Golden perch","year":2019,"do_last_year":"no","outlier":1},
    {"river":"Goulburn","species":"Golden perch","year":2020,"do_last_year":"no","outlier":8.6},
    {"river":"Goulburn","species":"Golden perch","year":2020,"do_last_year":"no","outlier":1},
    {"river":"Gwydir","species":"Golden perch","year":2018,"do_last_year":"no","outlier":13.6},
    {"river":"Gwydir","species":"Golden perch","year":2020,"do_last_year":"no","outlier":4.08},
    {"river":"Gwydir","species":"Golden perch","year":2020,"do_last_year":"no","outlier":3.45},
    {"river":"Lachlan","species":"Golden perch","year":2019,"do_last_year":"no","outlier":34},
    {"river":"Lachlan","species":"Golden perch","year":2019,"do_last_year":"no","outlier":6},
    {"river":"Lachlan","species":"Golden perch","year":2020,"do_last_year":"no","outlier":6},
    {"river":"Lachlan","species":"Golden perch","year":2021,"do_last_year":"no","outlier":6},
    {"river":"Lower Murray","species":"Golden perch","year":2017,"do_last_year":"yes","outlier":1},
    {"river":"Lower Murray","species":"Golden perch","year":2018,"do_last_year":"no","outlier":3.5},
    {"river":"Lower Murray","species":"Golden perch","year":2023,"do_last_year":"no","outlier":1},
    {"river":"Murrumbidgee","species":"Golden perch","year":2015,"do_last_year":"no","outlier":1},
    {"river":"Murrumbidgee","species":"Golden perch","year":2018,"do_last_year":"no","outlier":1},
    {"river":"Murrumbidgee","species":"Golden perch","year":2019,"do_last_year":"no","outlier":2.25},
    {"river":"Murrumbidgee","species":"Golden perch","year":2022,"do_last_year":"no","outlier":6},
    {"river":"Murrumbidgee","species":"Golden perch","year":2022,"do_last_year":"no","outlier":1},

    {"river":"Edward-Wakool","species":"Murray cod","year":2018,"do_last_year":"no","outlier":8.6},
    {"river":"Edward-Wakool","species":"Murray cod","year":2018,"do_last_year":"no","outlier":6},
    {"river":"Edward-Wakool","species":"Murray cod","year":2018,"do_last_year":"no","outlier":1},
    {"river":"Edward-Wakool","species":"Murray cod","year":2020,"do_last_year":"no","outlier":1},
    {"river":"Goulburn","species":"Murray cod","year":2020,"do_last_year":"no","outlier":1},
    {"river":"Goulburn","species":"Murray cod","year":2021,"do_last_year":"no","outlier":13.6},
    {"river":"Goulburn","species":"Murray cod","year":2021,"do_last_year":"no","outlier":1},
    {"river":"Goulburn","species":"Murray cod","year":2022,"do_last_year":"no","outlier":1},
    {"river":"Lachlan","species":"Murray cod","year":2015,"do_last_year":"no","outlier":2.25},
    {"river":"Lachlan","species":"Murray cod","year":2016,"do_last_year":"yes","outlier":2.25},
    {"river":"Lachlan","species":"Murray cod","year":2018,"do_last_year":"no","outlier":11.1},
    {"river":"Lower Murray","species":"Murray cod","year":2015,"do_last_year":"no","outlier":1},
    {"river":"Lower Murray","species":"Murray cod","year":2016,"do_last_year":"no","outlier":1},
    {"river":"Lower Murray","species":"Murray cod","year":2017,"do_last_year":"yes","outlier":9.85},
    {"river":"Lower Murray","species":"Murray cod","year":2017,"do_last_year":"yes","outlier":4.8},
    {"river":"Lower Murray","species":"Murray cod","year":2022,"do_last_year":"no","outlier":23.8},
    {"river":"Murrumbidgee","species":"Murray cod","year":2018,"do_last_year":"no","outlier":28},
    {"river":"Murrumbidgee","species":"Murray cod","year":2020,"do_last_year":"no","outlier":7.3},
    {"river":"Murrumbidgee","species":"Murray cod","year":2023,"do_last_year":"no","outlier":1}
  ]},
  "config": {
    "font": "Liberation Sans",
    "view": {"stroke": "#333333", "strokeWidth": 1},
    "axis": {"labelFontSize": 12.5, "labelColor": "#4D4D4D", "gridColor": "#EBEBEB", "tickColor": "#333333", "tickSize": 4, "tickWidth": 1, "labelPadding": 4, "domain": false, "labelOverlap": false, "labelFlush": false},
    "legend": {"padding": 0}
  },
  "spacing": 0,
  "hconcat": [
    {
      "width": 22, "height": 937,
      "view": {"stroke": null},
      "transform": [{"aggregate": [{"op": "count", "as": "n"}]}],
      "mark": {"type": "text", "text": "cpue + 1", "angle": 270, "fontSize": 19.5, "color": "black"},
      "encoding": {}
    },
    {
      "spacing": -2,
      "vconcat": [
        {
          "transform": [{"aggregate": [{"op": "count", "as": "n"}], "groupby": ["river"]}],
          "facet": {"column": {"field": "river", "type": "nominal", "header": {"labels": false, "title": null}}},
          "spacing": 9.6,
          "spec": {
            "width": 187, "height": 28,
            "view": {"fill": "#D9D9D9", "stroke": "#333333"},
            "mark": {"type": "text", "fontSize": 12.5, "color": "#1A1A1A"},
            "encoding": {
              "text": {"field": "river"},
              "y": {"datum": 0.5, "type": "quantitative", "scale": {"domain": [0, 1]}, "axis": {"labels": false, "ticks": false, "domain": false, "grid": false, "title": null, "minExtent": 40, "maxExtent": 40}}
            }
          }
        },
        {
          "spacing": 8.5,
          "vconcat": [
            {
              "spacing": 0,
              "hconcat": [
                {
                  "transform": [{"filter": "datum.species == 'Bony herring'"}],
                  "facet": {"column": {"field": "river", "type": "nominal", "header": {"labels": false, "title": null}}},
                  "spacing": 9.6,
                  "spec": {
                    "width": 187, "height": 212,
                    "encoding": {"x": {"field": "year", "type": "quantitative", "scale": {"domain": [2014.2, 2023.8], "nice": false, "zero": false},
                      "axis": {"title": null, "values": [2015, 2016, 2017, 2018, 2019, 2020, 2021, 2022, 2023], "labels": false, "ticks": false, "domain": false, "gridWidth": {"condition": {"test": "datum.value % 2 == 0", "value": 1.4}, "value": 0.7}}}},
                    "layer": [
                      {"transform": [{"filter": "isValid(datum.q1)"}], "mark": {"type": "rule", "strokeWidth": 1.6},
                       "encoding": {"y": {"field": "lower", "type": "quantitative", "scale": {"type": "log", "domain": [0.65, 8750], "nice": false},
                          "axis": {"title": null, "values": [1, 3.1623, 10, 31.623, 100, 316.23, 1000, 3162.3], "labelExpr": "indexof([1,10,100,1000], datum.value) >= 0 ? format(datum.value, 'd') : ''",
                            "tickColor": {"condition": {"test": "indexof([1,10,100,1000], datum.value) >= 0", "value": "#333333"}, "value": "transparent"},
                            "gridWidth": {"condition": {"test": "indexof([1,10,100,1000], datum.value) >= 0", "value": 1.4}, "value": 0.7}, "minExtent": 40, "maxExtent": 40}},
                         "y2": {"field": "upper"},
                         "color": {"field": "do_last_year", "type": "nominal", "scale": {"range": ["black", "red"]}, "legend": null}}},
                      {"transform": [{"filter": "isValid(datum.q1)"}], "mark": {"type": "bar", "width": 15, "fill": "white", "strokeWidth": 1.6},
                       "encoding": {"y": {"field": "q1", "type": "quantitative", "scale": {"type": "log", "domain": [0.65, 8750], "nice": false}},
                         "y2": {"field": "q3"},
                         "stroke": {"field": "do_last_year", "type": "nominal", "scale": {"domain": ["no", "yes"], "range": ["black", "red"]},
                           "legend": {"title": "do_last_year", "orient": "none", "legendX": 526.7, "legendY": -57.8, "direction": "horizontal", "titleOrient": "left", "titleAnchor": "middle", "titleBaseline": "middle", "titleFontSize": 19.5, "titleFontWeight": "normal", "titleColor": "black", "titlePadding": 12.4, "labelFontSize": 16, "labelColor": "black", "labelOffset": 13, "columnPadding": 5, "symbolType": "M-1,-0.665H1V0.665H-1Z M-1,0H1 M0,-0.665V-0.94 M0,0.665V0.94", "symbolSize": 708, "symbolStrokeWidth": 1.6, "symbolFillColor": "white"}}}},
                      {"transform": [{"filter": "isValid(datum.q1)"}], "mark": {"type": "tick", "orient": "horizontal", "size": 16, "thickness": 3.5, "opacity": 1},
                       "encoding": {"y": {"field": "median", "type": "quantitative", "scale": {"type": "log", "domain": [0.65, 8750], "nice": false}},
                         "color": {"field": "do_last_year", "type": "nominal", "scale": {"range": ["black", "red"]}, "legend": null}}},
                      {"transform": [{"filter": "isValid(datum.outlier)"}], "mark": {"type": "circle", "size": 45, "opacity": 1},
                       "encoding": {"y": {"field": "outlier", "type": "quantitative", "scale": {"type": "log", "domain": [0.65, 8750], "nice": false}},
                         "color": {"field": "do_last_year", "type": "nominal", "scale": {"range": ["black", "red"]}, "legend": null}}}
                    ]
                  }
                },
                {
                  "width": 42, "height": 212,
                  "view": {"fill": "#D9D9D9", "stroke": "#333333"},
                  "transform": [{"filter": "datum.species == 'Bony herring'"}, {"aggregate": [{"op": "count", "as": "n"}], "groupby": ["species"]}],
                  "mark": {"type": "text", "angle": 90, "lineBreak": " ", "fontSize": 12.5, "lineHeight": 13, "color": "#1A1A1A"},
                  "encoding": {"text": {"field": "species"}}
                }
              ]
            },
            {
              "spacing": 0,
              "hconcat": [
                {
                  "transform": [{"filter": "datum.species == 'Common carp'"}],
                  "facet": {"column": {"field": "river", "type": "nominal", "header": {"labels": false, "title": null}}},
                  "spacing": 9.6,
                  "spec": {
                    "width": 187, "height": 212,
                    "encoding": {"x": {"field": "year", "type": "quantitative", "scale": {"domain": [2014.2, 2023.8], "nice": false, "zero": false},
                      "axis": {"title": null, "values": [2015, 2016, 2017, 2018, 2019, 2020, 2021, 2022, 2023], "labels": false, "ticks": false, "domain": false, "gridWidth": {"condition": {"test": "datum.value % 2 == 0", "value": 1.4}, "value": 0.7}}}},
                    "layer": [
                      {"transform": [{"filter": "isValid(datum.q1)"}], "mark": {"type": "rule", "strokeWidth": 1.6},
                       "encoding": {"y": {"field": "lower", "type": "quantitative", "scale": {"type": "log", "domain": [1.63, 3080], "nice": false},
                          "axis": {"title": null, "values": [3.1623, 10, 31.623, 100, 316.23, 1000], "labelExpr": "indexof([10,100,1000], datum.value) >= 0 ? format(datum.value, 'd') : ''",
                            "tickColor": {"condition": {"test": "indexof([10,100,1000], datum.value) >= 0", "value": "#333333"}, "value": "transparent"},
                            "gridWidth": {"condition": {"test": "indexof([10,100,1000], datum.value) >= 0", "value": 1.4}, "value": 0.7}, "minExtent": 40, "maxExtent": 40}},
                         "y2": {"field": "upper"},
                         "color": {"field": "do_last_year", "type": "nominal", "scale": {"range": ["black", "red"]}, "legend": null}}},
                      {"transform": [{"filter": "isValid(datum.q1)"}], "mark": {"type": "bar", "width": 15, "fill": "white", "strokeWidth": 1.6},
                       "encoding": {"y": {"field": "q1", "type": "quantitative", "scale": {"type": "log", "domain": [1.63, 3080], "nice": false}},
                         "y2": {"field": "q3"},
                         "stroke": {"field": "do_last_year", "type": "nominal", "scale": {"domain": ["no", "yes"], "range": ["black", "red"]},
                           "legend": {"title": "do_last_year", "orient": "none", "legendX": 526.7, "legendY": -57.8, "direction": "horizontal", "titleOrient": "left", "titleAnchor": "middle", "titleBaseline": "middle", "titleFontSize": 19.5, "titleFontWeight": "normal", "titleColor": "black", "titlePadding": 12.4, "labelFontSize": 16, "labelColor": "black", "labelOffset": 13, "columnPadding": 5, "symbolType": "M-1,-0.665H1V0.665H-1Z M-1,0H1 M0,-0.665V-0.94 M0,0.665V0.94", "symbolSize": 708, "symbolStrokeWidth": 1.6, "symbolFillColor": "white"}}}},
                      {"transform": [{"filter": "isValid(datum.q1)"}], "mark": {"type": "tick", "orient": "horizontal", "size": 16, "thickness": 3.5, "opacity": 1},
                       "encoding": {"y": {"field": "median", "type": "quantitative", "scale": {"type": "log", "domain": [1.63, 3080], "nice": false}},
                         "color": {"field": "do_last_year", "type": "nominal", "scale": {"range": ["black", "red"]}, "legend": null}}},
                      {"transform": [{"filter": "isValid(datum.outlier)"}], "mark": {"type": "circle", "size": 45, "opacity": 1},
                       "encoding": {"y": {"field": "outlier", "type": "quantitative", "scale": {"type": "log", "domain": [1.63, 3080], "nice": false}},
                         "color": {"field": "do_last_year", "type": "nominal", "scale": {"range": ["black", "red"]}, "legend": null}}}
                    ]
                  }
                },
                {
                  "width": 42, "height": 212,
                  "view": {"fill": "#D9D9D9", "stroke": "#333333"},
                  "transform": [{"filter": "datum.species == 'Common carp'"}, {"aggregate": [{"op": "count", "as": "n"}], "groupby": ["species"]}],
                  "mark": {"type": "text", "angle": 90, "lineBreak": " ", "fontSize": 12.5, "lineHeight": 13, "color": "#1A1A1A"},
                  "encoding": {"text": {"field": "species"}}
                }
              ]
            },
            {
              "spacing": 0,
              "hconcat": [
                {
                  "transform": [{"filter": "datum.species == 'Golden perch'"}],
                  "facet": {"column": {"field": "river", "type": "nominal", "header": {"labels": false, "title": null}}},
                  "spacing": 9.6,
                  "spec": {
                    "width": 187, "height": 212,
                    "encoding": {"x": {"field": "year", "type": "quantitative", "scale": {"domain": [2014.2, 2023.8], "nice": false, "zero": false},
                      "axis": {"title": null, "values": [2015, 2016, 2017, 2018, 2019, 2020, 2021, 2022, 2023], "labels": false, "ticks": false, "domain": false, "gridWidth": {"condition": {"test": "datum.value % 2 == 0", "value": 1.4}, "value": 0.7}}}},
                    "layer": [
                      {"transform": [{"filter": "isValid(datum.q1)"}], "mark": {"type": "rule", "strokeWidth": 1.6},
                       "encoding": {"y": {"field": "lower", "type": "quantitative", "scale": {"type": "log", "domain": [0.82, 71], "nice": false},
                          "axis": {"title": null, "values": [1, 1.7321, 3, 5.4772, 10, 17.321, 30, 54.772], "labelExpr": "indexof([1,3,10,30], datum.value) >= 0 ? format(datum.value, 'd') : ''",
                            "tickColor": {"condition": {"test": "indexof([1,3,10,30], datum.value) >= 0", "value": "#333333"}, "value": "transparent"},
                            "gridWidth": {"condition": {"test": "indexof([1,3,10,30], datum.value) >= 0", "value": 1.4}, "value": 0.7}, "minExtent": 40, "maxExtent": 40}},
                         "y2": {"field": "upper"},
                         "color": {"field": "do_last_year", "type": "nominal", "scale": {"range": ["black", "red"]}, "legend": null}}},
                      {"transform": [{"filter": "isValid(datum.q1)"}], "mark": {"type": "bar", "width": 15, "fill": "white", "strokeWidth": 1.6},
                       "encoding": {"y": {"field": "q1", "type": "quantitative", "scale": {"type": "log", "domain": [0.82, 71], "nice": false}},
                         "y2": {"field": "q3"},
                         "stroke": {"field": "do_last_year", "type": "nominal", "scale": {"domain": ["no", "yes"], "range": ["black", "red"]},
                           "legend": {"title": "do_last_year", "orient": "none", "legendX": 526.7, "legendY": -57.8, "direction": "horizontal", "titleOrient": "left", "titleAnchor": "middle", "titleBaseline": "middle", "titleFontSize": 19.5, "titleFontWeight": "normal", "titleColor": "black", "titlePadding": 12.4, "labelFontSize": 16, "labelColor": "black", "labelOffset": 13, "columnPadding": 5, "symbolType": "M-1,-0.665H1V0.665H-1Z M-1,0H1 M0,-0.665V-0.94 M0,0.665V0.94", "symbolSize": 708, "symbolStrokeWidth": 1.6, "symbolFillColor": "white"}}}},
                      {"transform": [{"filter": "isValid(datum.q1)"}], "mark": {"type": "tick", "orient": "horizontal", "size": 16, "thickness": 3.5, "opacity": 1},
                       "encoding": {"y": {"field": "median", "type": "quantitative", "scale": {"type": "log", "domain": [0.82, 71], "nice": false}},
                         "color": {"field": "do_last_year", "type": "nominal", "scale": {"range": ["black", "red"]}, "legend": null}}},
                      {"transform": [{"filter": "isValid(datum.outlier)"}], "mark": {"type": "circle", "size": 45, "opacity": 1},
                       "encoding": {"y": {"field": "outlier", "type": "quantitative", "scale": {"type": "log", "domain": [0.82, 71], "nice": false}},
                         "color": {"field": "do_last_year", "type": "nominal", "scale": {"range": ["black", "red"]}, "legend": null}}}
                    ]
                  }
                },
                {
                  "width": 42, "height": 212,
                  "view": {"fill": "#D9D9D9", "stroke": "#333333"},
                  "transform": [{"filter": "datum.species == 'Golden perch'"}, {"aggregate": [{"op": "count", "as": "n"}], "groupby": ["species"]}],
                  "mark": {"type": "text", "angle": 90, "lineBreak": " ", "fontSize": 12.5, "lineHeight": 13, "color": "#1A1A1A"},
                  "encoding": {"text": {"field": "species"}}
                }
              ]
            },
            {
              "spacing": 0,
              "hconcat": [
                {
                  "transform": [{"filter": "datum.species == 'Murray cod'"}],
                  "facet": {"column": {"field": "river", "type": "nominal", "header": {"labels": false, "title": null}}},
                  "spacing": 9.6,
                  "spec": {
                    "width": 187, "height": 212,
                    "encoding": {"x": {"field": "year", "type": "quantitative", "scale": {"domain": [2014.2, 2023.8], "nice": false, "zero": false},
                      "axis": {"title": null, "values": [2015, 2016, 2017, 2018, 2019, 2020, 2021, 2022, 2023], "labelExpr": "datum.value % 2 == 0 ? format(datum.value, 'd') : ''", "domain": false,
                        "tickColor": {"condition": {"test": "datum.value % 2 == 0", "value": "#333333"}, "value": "transparent"},
                        "gridWidth": {"condition": {"test": "datum.value % 2 == 0", "value": 1.4}, "value": 0.7}}}},
                    "layer": [
                      {"transform": [{"filter": "isValid(datum.q1)"}], "mark": {"type": "rule", "strokeWidth": 1.6},
                       "encoding": {"y": {"field": "lower", "type": "quantitative", "scale": {"type": "log", "domain": [0.82, 71], "nice": false},
                          "axis": {"title": null, "values": [1, 1.7321, 3, 5.4772, 10, 17.321, 30, 54.772], "labelExpr": "indexof([1,3,10,30], datum.value) >= 0 ? format(datum.value, 'd') : ''",
                            "tickColor": {"condition": {"test": "indexof([1,3,10,30], datum.value) >= 0", "value": "#333333"}, "value": "transparent"},
                            "gridWidth": {"condition": {"test": "indexof([1,3,10,30], datum.value) >= 0", "value": 1.4}, "value": 0.7}, "minExtent": 40, "maxExtent": 40}},
                         "y2": {"field": "upper"},
                         "color": {"field": "do_last_year", "type": "nominal", "scale": {"range": ["black", "red"]}, "legend": null}}},
                      {"transform": [{"filter": "isValid(datum.q1)"}], "mark": {"type": "bar", "width": 15, "fill": "white", "strokeWidth": 1.6},
                       "encoding": {"y": {"field": "q1", "type": "quantitative", "scale": {"type": "log", "domain": [0.82, 71], "nice": false}},
                         "y2": {"field": "q3"},
                         "stroke": {"field": "do_last_year", "type": "nominal", "scale": {"domain": ["no", "yes"], "range": ["black", "red"]},
                           "legend": {"title": "do_last_year", "orient": "none", "legendX": 526.7, "legendY": -57.8, "direction": "horizontal", "titleOrient": "left", "titleAnchor": "middle", "titleBaseline": "middle", "titleFontSize": 19.5, "titleFontWeight": "normal", "titleColor": "black", "titlePadding": 12.4, "labelFontSize": 16, "labelColor": "black", "labelOffset": 13, "columnPadding": 5, "symbolType": "M-1,-0.665H1V0.665H-1Z M-1,0H1 M0,-0.665V-0.94 M0,0.665V0.94", "symbolSize": 708, "symbolStrokeWidth": 1.6, "symbolFillColor": "white"}}}},
                      {"transform": [{"filter": "isValid(datum.q1)"}], "mark": {"type": "tick", "orient": "horizontal", "size": 16, "thickness": 3.5, "opacity": 1},
                       "encoding": {"y": {"field": "median", "type": "quantitative", "scale": {"type": "log", "domain": [0.82, 71], "nice": false}},
                         "color": {"field": "do_last_year", "type": "nominal", "scale": {"range": ["black", "red"]}, "legend": null}}},
                      {"transform": [{"filter": "isValid(datum.outlier)"}], "mark": {"type": "circle", "size": 45, "opacity": 1},
                       "encoding": {"y": {"field": "outlier", "type": "quantitative", "scale": {"type": "log", "domain": [0.82, 71], "nice": false}},
                         "color": {"field": "do_last_year", "type": "nominal", "scale": {"range": ["black", "red"]}, "legend": null}}}
                    ]
                  }
                },
                {
                  "width": 42, "height": 212,
                  "view": {"fill": "#D9D9D9", "stroke": "#333333"},
                  "transform": [{"filter": "datum.species == 'Murray cod'"}, {"aggregate": [{"op": "count", "as": "n"}], "groupby": ["species"]}],
                  "mark": {"type": "text", "angle": 90, "lineBreak": " ", "fontSize": 12.5, "lineHeight": 13, "color": "#1A1A1A"},
                  "encoding": {"text": {"field": "species"}}
                }
              ]
            }
          ]
        },
        {
          "width": 1182, "height": 25,
          "view": {"stroke": null},
          "transform": [{"aggregate": [{"op": "count", "as": "n"}]}],
          "mark": {"type": "text", "text": "wateryear", "fontSize": 19.5, "color": "black"},
          "encoding": {}
        }
      ]
    }
  ]
}
